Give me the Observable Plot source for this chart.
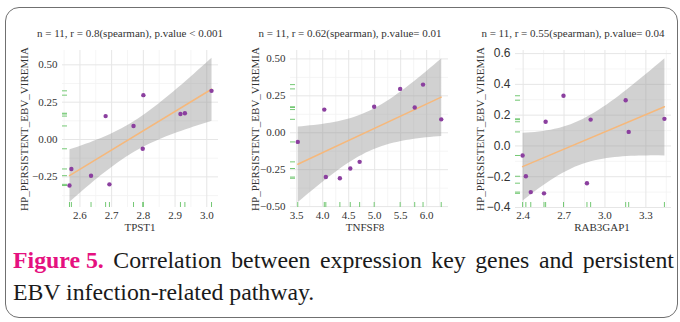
<!DOCTYPE html>
<html><head><meta charset="utf-8">
<script src="https://cdn.jsdelivr.net/npm/d3@7"></script>
<script src="https://cdn.jsdelivr.net/npm/@observablehq/plot@0.6"></script>
<style>
body{margin:0;background:#fff;}
#fig{position:relative;width:680px;height:322px;overflow:hidden;background:#fff;font-family:"Liberation Serif","Times New Roman",serif;}
#frame{position:absolute;left:5px;top:7px;width:673px;height:311px;border:1.5px solid #707070;border-radius:14px;box-sizing:border-box;}
.panel{position:absolute;top:0;}
.title{position:absolute;top:26px;font-size:11px;line-height:14px;color:#333;white-space:nowrap;transform:translateX(-50%);}
.xlab{position:absolute;top:221px;font-size:11px;line-height:13px;color:#333;transform:translateX(-50%);white-space:nowrap;}
.ylab{position:absolute;top:129px;font-size:11px;line-height:13px;color:#333;white-space:nowrap;transform:translate(-50%,-50%) rotate(-90deg);}
.cap{position:absolute;left:13px;width:661px;font-size:23.8px;line-height:28px;color:#1a1a1a;white-space:nowrap;}
#cap1{top:246px;display:flex;justify-content:space-between;}
#cap2{top:278px;}
.fig5{color:#e5117f;font-weight:bold;}
</style>
</head><body>
<div id="fig">
  <div id="frame"></div>
  <div id="p1" class="panel" style="left:0px"></div>
  <div id="p2" class="panel" style="left:225px"></div>
  <div id="p3" class="panel" style="left:455px"></div>
  <div class="title" style="left:130px">n = 11, r = 0.8(spearman), p.value &lt; 0.001</div>
  <div class="title" style="left:350px">n = 11, r = 0.62(spearman), p.value= 0.01</div>
  <div class="title" style="left:573px">n = 11, r = 0.55(spearman), p.value= 0.04</div>
  <div class="ylab" style="left:24px">HP_PERSISTENT_EBV_VIREMIA</div>
  <div class="ylab" style="left:255px">HP_PERSISTENT_EBV_VIREMIA</div>
  <div class="ylab" style="left:480px">HP_PERSISTENT_EBV_VIREMIA</div>
  <div class="xlab" style="left:140px">TPST1</div>
  <div class="xlab" style="left:365px">TNFSF8</div>
  <div class="xlab" style="left:602px">RAB3GAP1</div>
  <div id="cap1" class="cap"><span class="fig5">Figure 5.</span><span>Correlation</span><span>between</span><span>expression</span><span>key</span><span>genes</span><span>and</span><span>persistent</span></div>
  <div id="cap2" class="cap">EBV infection-related pathway.</div>
</div>
<script>
// Shared pathway score for the 11 samples
const hpScore  = [0.326, 0.297, 0.176, 0.171, 0.157, 0.091, -0.062, -0.197, -0.242, -0.300, -0.308];
// Gene expression for the same samples
const tpst1    = [3.015, 2.800, 2.931, 2.917, 2.681, 2.769, 2.798, 2.573, 2.635, 2.693, 2.567];
const tnfsf8   = [5.93, 5.49, 4.99, 5.77, 4.03, 6.28, 3.52, 4.71, 4.53, 4.06, 4.33];
const rab3gap1 = [2.696, 3.152, 3.436, 2.895, 2.565, 3.174, 2.396, 2.420, 2.868, 2.456, 2.553];

// Tick labels
const ticksX1 = [2.6, 2.7, 2.8, 2.9, 3.0];
const ticksY1 = [-0.25, 0, 0.25, 0.5];
const ticksX2 = [3.5, 4.0, 4.5, 5.0, 5.5, 6.0];
const ticksY2 = [-0.5, -0.25, 0, 0.25, 0.5];
const ticksX3 = [2.4, 2.7, 3.0, 3.3];
const ticksY3 = [-0.4, -0.2, 0, 0.2, 0.4, 0.6];

const PURPLE = "#8b3f9f", ORANGE = "#f6b87b", GREEN = "#74c874";
const H = 240, MT = 50, MB = 33;

function minor(ticks, domain) {
  const step = ticks[1] - ticks[0];
  const out = [];
  for (const t of [ticks[0] - step, ...ticks]) {
    const m = t + step / 2;
    if (m > domain[0] && m < domain[1]) out.push(m);
  }
  return out;
}

function panel(el, xs, cfg) {
  const rows = xs.map((x, i) => ({x, y: hpScore[i]}));
  const plotW = cfg.width - cfg.ml - cfg.mr;
  const plotH = H - MT - MB;
  const svg = Plot.plot({
    width: cfg.width, height: H,
    marginLeft: cfg.ml, marginRight: cfg.mr, marginTop: MT, marginBottom: MB,
    style: {fontFamily: "Liberation Serif, Times New Roman, serif", fontSize: "11px", color: "#333", background: "transparent"},
    x: {domain: cfg.xd, label: null},
    y: {domain: cfg.yd, label: null},
    marks: [
      Plot.gridX(minor(cfg.xt, cfg.xd), {stroke: "#f3f3f3", strokeOpacity: 1, strokeWidth: 0.8}),
      Plot.gridY(minor(cfg.yt, cfg.yd), {stroke: "#f3f3f3", strokeOpacity: 1, strokeWidth: 0.8}),
      Plot.gridX(cfg.xt, {stroke: "#e6e6e6", strokeOpacity: 1, strokeWidth: 1}),
      Plot.gridY(cfg.yt, {stroke: "#e6e6e6", strokeOpacity: 1, strokeWidth: 1}),
      Plot.axisX(cfg.xt, {tickSize: 0, tickPadding: 4, tickFormat: d3.format(".1f"), label: null, fontSize: 11, fill: "#333"}),
      Plot.axisY(cfg.yt, {tickSize: 0, tickPadding: 5, tickFormat: d3.format(cfg.yf), label: null,
        fontSize: cfg.yfs, fontFamily: cfg.yff, fill: "#333"}),
      Plot.linearRegressionY(rows, {x: "x", y: "y", ci: 0.95, stroke: ORANGE, strokeWidth: 1.5, fill: "#999999", fillOpacity: 0.45}),
      Plot.ruleX(rows, {x: "x", stroke: GREEN, strokeWidth: 1, insetTop: plotH - 5}),
      Plot.ruleY(rows, {y: "y", stroke: GREEN, strokeWidth: 1, insetRight: plotW - 5}),
      Plot.dot(rows, {x: "x", y: "y", r: 2.2, fill: PURPLE, stroke: "none"})
    ]
  });
  el.appendChild(svg);
}

panel(document.getElementById("p1"), tpst1, {
  width: 225, ml: 62, mr: 7, xd: [2.545, 3.037], yd: [-0.455, 0.596],
  xt: ticksX1, yt: ticksY1, yf: ".2f", yfs: 11, yff: "Liberation Serif, serif"
});
panel(document.getElementById("p2"), tnfsf8, {
  width: 230, ml: 65, mr: 7, xd: [3.38, 6.42], yd: [-0.506, 0.557],
  xt: ticksX2, yt: ticksY2, yf: ".2f", yfs: 11, yff: "Liberation Serif, serif"
});
panel(document.getElementById("p3"), rab3gap1, {
  width: 225, ml: 60, mr: 9, xd: [2.344, 3.488], yd: [-0.40, 0.62],
  xt: ticksX3, yt: ticksY3, yf: ".1f", yfs: 12, yff: "Liberation Sans, Arial, sans-serif"
});
</script>
</body></html>
